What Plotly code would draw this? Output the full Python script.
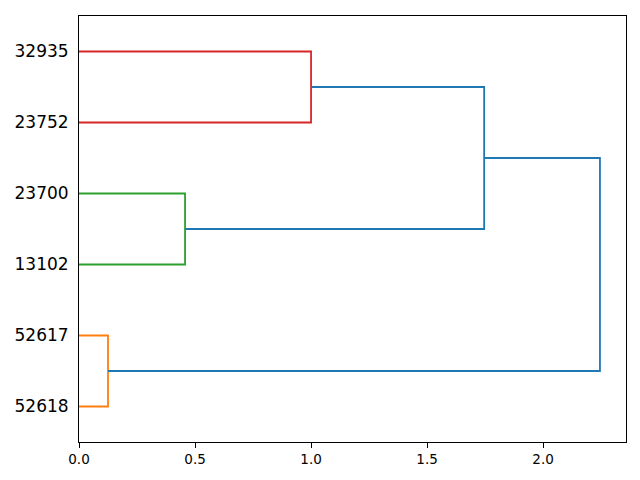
import plotly.graph_objects as go

# Leaves (bottom to top) and merges (scipy-like linkage)
leaf_labels = ["52618", "52617", "13102", "23700", "23752", "32935"]
# merges: (left child, right child, height, color); children index leaves 0..5, then merges 6..
merge_left = [0, 2, 4, 7, 6]
merge_right = [1, 3, 5, 8, 9]
merge_height = [0.125, 0.457, 1.0, 1.746, 2.245]
merge_color = ["#ff7f0e", "#2ca02c", "#d62728", "#1f77b4", "#1f77b4"]

n = len(leaf_labels)
pos = {i: 5 + 10 * i for i in range(n)}
hgt = {i: 0.0 for i in range(n)}

fig = go.Figure()
for k, (a, b, h, c) in enumerate(zip(merge_left, merge_right, merge_height, merge_color)):
    node = n + k
    ya, yb = pos[a], pos[b]
    xs = [hgt[a], h, h, hgt[b]]
    ys = [ya, ya, yb, yb]
    fig.add_trace(go.Scatter(x=xs, y=ys, mode="lines", line=dict(color=c, width=1.8),
                             showlegend=False, hoverinfo="skip"))
    pos[node] = (ya + yb) / 2
    hgt[node] = h

xmax = max(merge_height) * 1.05
fig.update_layout(
    width=640, height=480,
    margin=dict(l=71, r=22, t=8, b=46),
    plot_bgcolor="white", paper_bgcolor="white",
    font=dict(family="DejaVu Sans", color="black"),
    xaxis=dict(range=[0, xmax], tickvals=[0, 0.5, 1.0, 1.5, 2.0],
               ticktext=["0.0", "0.5", "1.0", "1.5", "2.0"],
               ticks="outside", ticklen=5, tickwidth=1, tickcolor="black",
               showgrid=False, zeroline=False, showline=True, linecolor="black",
               linewidth=1, mirror=True, tickfont=dict(size=13.5)),
    yaxis=dict(range=[0, 10 * n], tickvals=[pos[i] for i in range(n)], ticktext=leaf_labels,
               ticks="", showgrid=False, zeroline=False, showline=True, linecolor="black",
               linewidth=1, mirror=True, tickfont=dict(size=17), ticklabelstandoff=6),
)
fig.write_html("out.html")
